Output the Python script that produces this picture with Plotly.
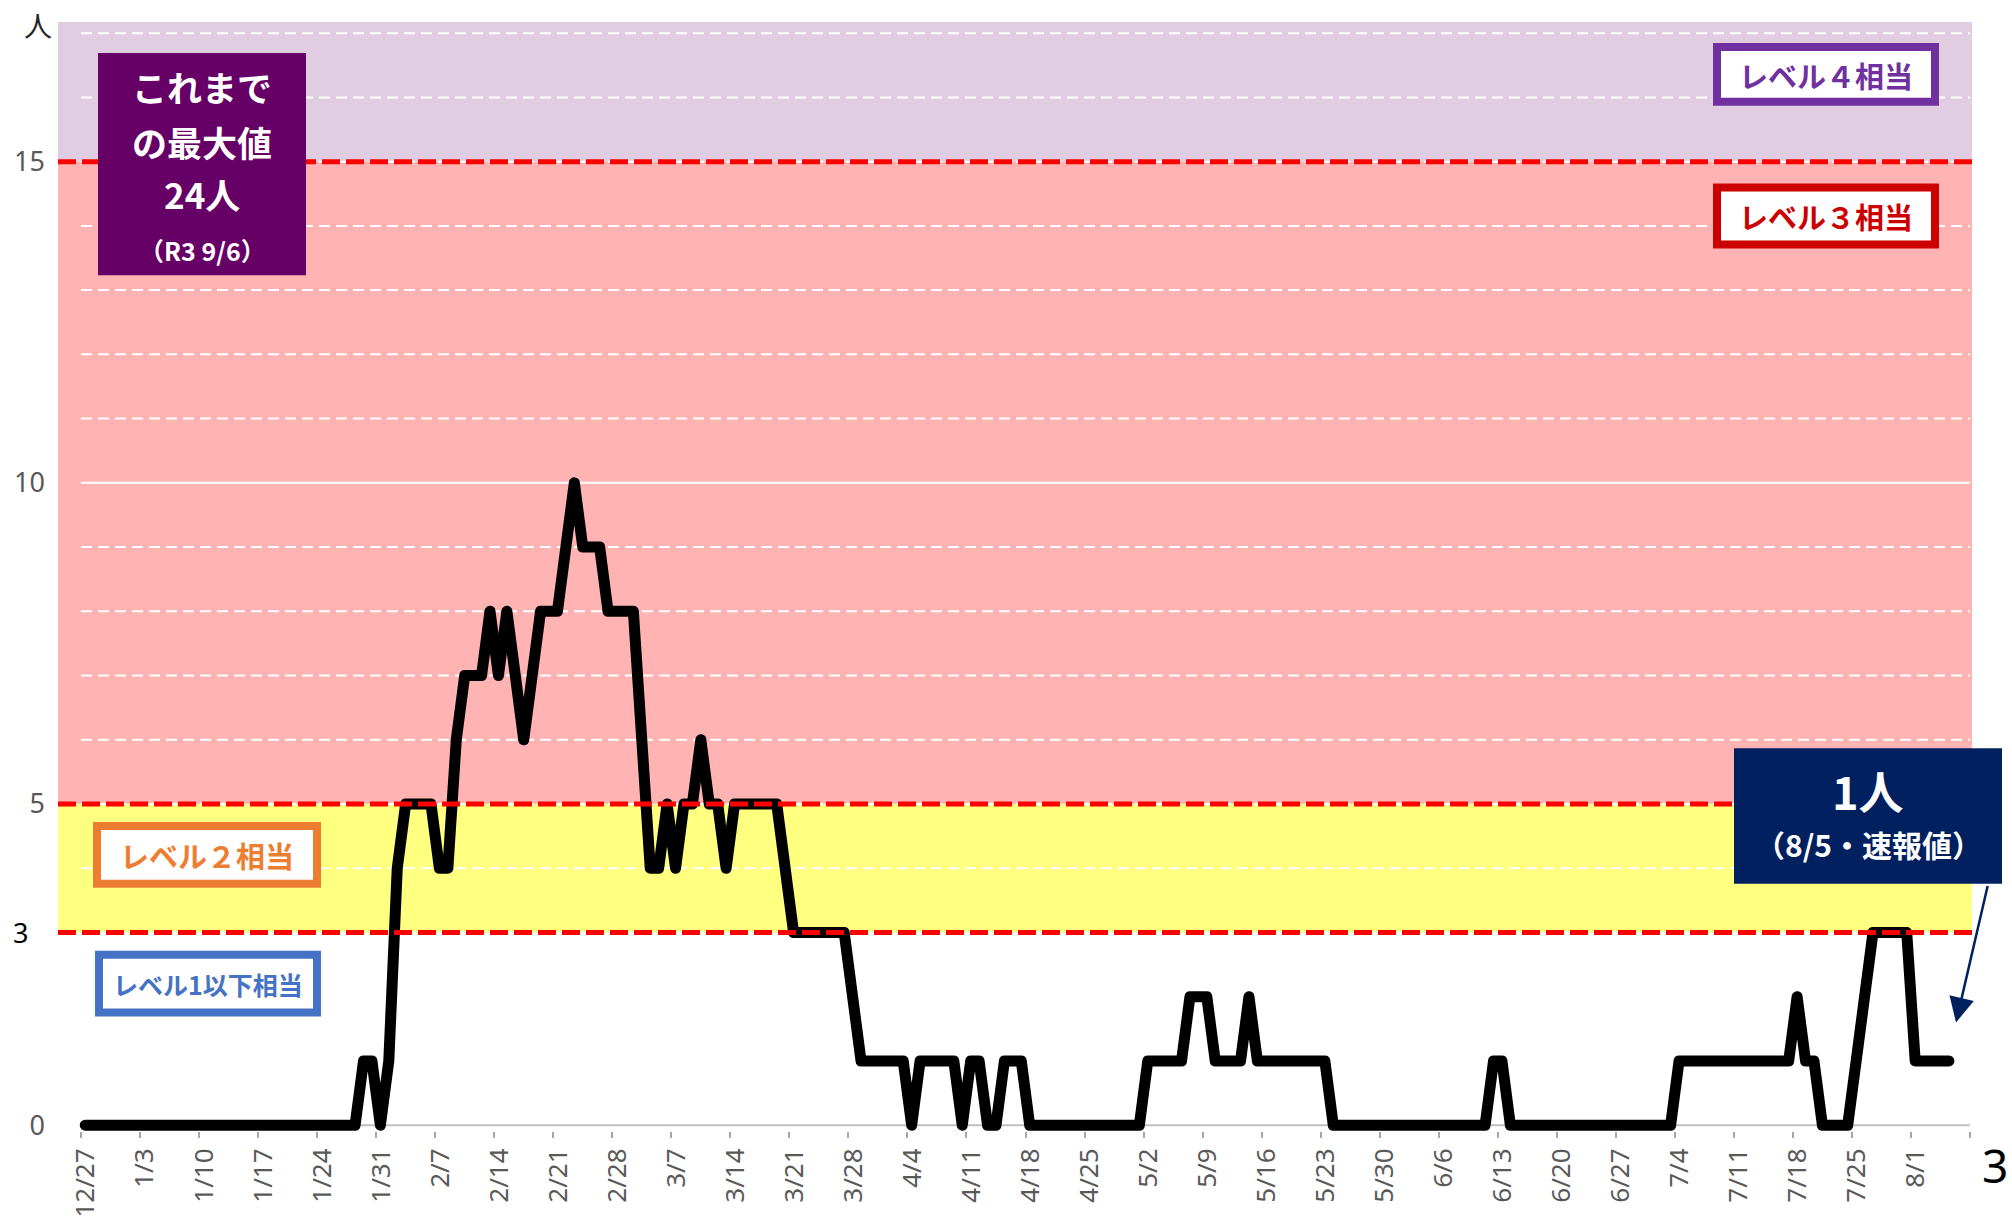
import pandas as pd
import plotly.graph_objects as go

# ---------------- data ----------------
START = "2021-12-27"
dec = [0, 0, 0, 0, 0]
jan = [0, 0, 0, 0, 0, 0, 0, 0, 0, 0, 0, 0, 0, 0, 0, 0, 0, 0, 0, 0,
       0, 0, 0, 0, 0, 0, 0, 0, 1, 1, 0]
feb = [1, 4, 5, 5, 5, 5, 4, 4, 6, 7, 7, 7, 8, 7, 8, 7, 6, 7, 8, 8,
       8, 9, 10, 9, 9, 9, 8, 8]
mar = [8, 8, 6, 4, 4, 5, 4, 5, 5, 6, 5, 5, 4, 5, 5, 5, 5, 5, 5, 4,
       3, 3, 3, 3, 3, 3, 3, 2, 1, 1, 1]
apr = [1, 1, 1, 0, 1, 1, 1, 1, 1, 0, 1, 1, 0, 0, 1, 1, 1, 0, 0, 0,
       0, 0, 0, 0, 0, 0, 0, 0, 0, 0]
may = [0, 1, 1, 1, 1, 1, 2, 2, 2, 1, 1, 1, 1, 2, 1, 1, 1, 1, 1, 1,
       1, 1, 1, 0, 0, 0, 0, 0, 0, 0, 0]
jun = [0, 0, 0, 0, 0, 0, 0, 0, 0, 0, 0, 1, 1, 0, 0, 0, 0, 0, 0, 0,
       0, 0, 0, 0, 0, 0, 0, 0, 0, 0]
jul = [0, 0, 0, 1, 1, 1, 1, 1, 1, 1, 1, 1, 1, 1, 1, 1, 1, 2, 1, 1,
       0, 0, 0, 0, 1, 2, 3, 3, 3, 3, 3]
aug = [1, 1, 1, 1, 1]
cases = dec + jan + feb + mar + apr + may + jun + jul + aug

tick_labels = ["12/27", "1/3", "1/10", "1/17", "1/24", "1/31", "2/7", "2/14",
               "2/21", "2/28", "3/7", "3/14", "3/21", "3/28", "4/4", "4/11",
               "4/18", "4/25", "5/2", "5/9", "5/16", "5/23", "5/30", "6/6",
               "6/13", "6/20", "6/27", "7/4", "7/11", "7/18", "7/25", "8/1", ""]
y_tick_values = [0, 5, 10, 15]
y_tick_labels = ["0", "5", "10", "15"]
level_lines = [3, 5, 15]
grid_values = list(range(1, 18))

# ---------------- layout geometry ----------------
W, H = 2012, 1230
PLOT_L, PLOT_R, PLOT_T = 58, 1972, 22
DAY0_PX, PX_PER_DAY = 81, 8.433
ZERO_PX, PX_PER_UNIT = 1128, 64.4
Y_MIN = -0.09
plot_bottom = ZERO_PX - Y_MIN * PX_PER_UNIT
Y_MAX = (ZERO_PX - PLOT_T) / PX_PER_UNIT

start = pd.Timestamp(START)
dates = pd.date_range(START, periods=len(cases), freq="D") + pd.Timedelta(hours=12)
tick_vals = pd.date_range(START, periods=len(tick_labels), freq="7D")
axis_end = tick_vals[-1]

def fmt(ts):
    return ts.strftime("%Y-%m-%d %H:%M:%S")

x_lo = start - pd.Timedelta(days=(DAY0_PX - PLOT_L) / PX_PER_DAY)
x_hi = start + pd.Timedelta(days=(PLOT_R - DAY0_PX) / PX_PER_DAY)

def px_x(p):
    return (p - PLOT_L) / (PLOT_R - PLOT_L)

def px_y(p):
    return (plot_bottom - p) / (plot_bottom - PLOT_T)

JP = "Noto Sans CJK JP"
NUM = "Noto Sans"

fig = go.Figure()
fig.add_trace(go.Scatter(x=dates, y=cases, mode="lines",
                         line=dict(color="black", width=11),
                         hoverinfo="skip", showlegend=False))

shapes = []
# level bands
bands = [(15, Y_MAX, "#E1CDE1"), (5, 15, "#FFB3B3"), (3, 5, "#FFFF80")]
for y0, y1, col in bands:
    shapes.append(dict(type="rect", xref="paper", yref="y", x0=0, x1=1, y0=y0, y1=y1,
                       fillcolor=col, line=dict(width=0), layer="below"))
# white grid lines
for v in grid_values:
    shapes.append(dict(type="line", xref="x", yref="y", x0=fmt(start), x1=fmt(axis_end),
                       y0=v, y1=v, layer="below",
                       line=dict(color="white", width=2,
                                 dash="solid" if v == 10 else "11px,6px")))
# axis line
shapes.append(dict(type="line", xref="x", yref="y", x0=fmt(start), x1=fmt(axis_end),
                   y0=0, y1=0, layer="below", line=dict(color="#BFBFBF", width=2)))
# red level lines (above the data line)
for v in level_lines:
    shapes.append(dict(type="line", xref="paper", yref="y", x0=0, x1=1, y0=v, y1=v,
                       layer="above", line=dict(color="#FF0000", width=5, dash="18px,6px")))

def box(x0, y0, x1, y1, fill, line_col=None, lw=0):
    return dict(type="rect", xref="paper", yref="paper",
                x0=px_x(x0), x1=px_x(x1), y0=px_y(y1), y1=px_y(y0),
                fillcolor=fill, layer="above",
                line=dict(color=line_col or fill, width=lw))

shapes.append(box(98, 53, 306, 276, "#660066"))
shapes.append(box(1717, 47, 1935, 102, "white", "#7030A0", 8))
shapes.append(box(1717, 188, 1935, 245, "white", "#CC0000", 8))
shapes.append(box(97, 828, 317, 886, "white", "#ED7D31", 8))
shapes.append(box(99, 957, 317, 1015, "white", "#4472C4", 8))
shapes.append(box(1734, 750, 2002, 886, "#002060"))

annotations = []

def txt(text, x, y, size, color, family=JP, xanchor="center"):
    annotations.append(dict(text=text, x=px_x(x), y=px_y(y), xref="paper", yref="paper",
                            xanchor=xanchor, yanchor="middle", showarrow=False,
                            font=dict(family=family, size=size, color=color)))

txt("<b>これまで</b>", 202, 87, 35, "white")
txt("<b>の最大値</b>", 202, 142, 35, "white")
txt("<b>24人</b>", 202, 194, 35, "white")
txt("<b>（R3 9/6）</b>", 202, 251, 25, "white")
txt("<b>レベル４相当</b>", 1826, 75, 29, "#7030A0")
txt("<b>レベル３相当</b>", 1826, 216, 29, "#CC0000")
txt("<b>レベル２相当</b>", 207, 857, 29, "#ED7D31")
txt("<b>レベル1以下相当</b>", 208, 986, 25, "#4472C4")
txt("<b>1人</b>", 1868, 792, 45, "white")
txt("<b>（8/5・速報値）</b>", 1868, 846, 30, "white")
txt("人", 38, 25, 28, "#262626")
txt("3", 20, ZERO_PX - 3 * PX_PER_UNIT, 27, "black", family=NUM)
txt("3", 2010, 1168, 46, "black", family=NUM, xanchor="right")

# arrow from the navy box to the last point
annotations.append(dict(text="", x=px_x(1956), y=px_y(1025), xref="paper", yref="paper",
                        ax=32, ay=-138, showarrow=True, arrowhead=2, arrowsize=2,
                        arrowwidth=2.5, arrowcolor="#002060", standoff=0))

fig.update_layout(
    width=W, height=H,
    margin=dict(l=PLOT_L, r=W - PLOT_R, t=PLOT_T, b=H - plot_bottom),
    paper_bgcolor="white", plot_bgcolor="white",
    showlegend=False,
    shapes=shapes, annotations=annotations,
    xaxis=dict(type="date", range=[fmt(x_lo), fmt(x_hi)],
               tickvals=list(tick_vals), ticktext=tick_labels,
               tickangle=-90, ticks="outside", ticklen=6, tickwidth=1.5,
               tickcolor="#A6A6A6", showgrid=False, zeroline=False, showline=False,
               tickfont=dict(family=NUM, size=26, color="#595959"),
               ticklabelshift=5),
    yaxis=dict(range=[Y_MIN, Y_MAX], tickvals=y_tick_values, ticktext=y_tick_labels,
               ticks="", showgrid=False, zeroline=False, showline=False,
               tickfont=dict(family=NUM, size=27, color="#595959"),
               ticklabelstandoff=12),
)

post = ("var s=document.createElement('style');"
        "s.innerHTML='body{margin:0}.js-line{stroke-linejoin:round;stroke-linecap:round}';"
        "document.head.appendChild(s);")
fig.write_html("out.html", post_script=post, config={"displayModeBar": False})
